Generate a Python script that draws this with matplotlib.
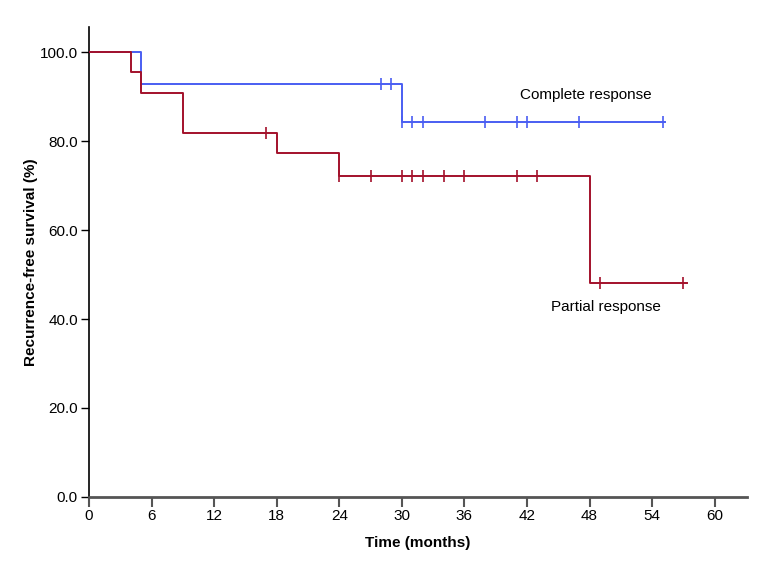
import matplotlib
matplotlib.use("Agg")
import matplotlib.pyplot as plt
import numpy as np

plt.rcParams.update({
    'font.family': ['Liberation Sans', 'DejaVu Sans'],
    'font.size': 11,
})

# Step curves: event times and survival level after each step (%)
cr_times = [0, 5, 30]
cr_surv = [100.0, 92.9, 84.4]
cr_end = 55.2
cr_censor = [28, 29, 30, 31, 32, 38, 41, 42, 47, 55]

pr_times = [0, 4, 5, 9, 18, 24, 48]
pr_surv = [100.0, 95.5, 90.9, 81.8, 77.3, 72.2, 48.1]
pr_end = 57.3
pr_censor = [17, 24, 27, 30, 31, 32, 34, 36, 41, 43, 49, 57]

x_ticks = [0, 6, 12, 18, 24, 30, 36, 42, 48, 54, 60]
y_ticks = [0, 20, 40, 60, 80, 100]

BLUE = '#4a5ef2'
RED = '#a3112b'


def level_at(t, times, surv):
    idx = np.searchsorted(times, t, side='right') - 1
    return surv[idx]


fig = plt.figure(figsize=(7.67, 5.75), dpi=100)
ax = fig.add_axes([0.116, 0.1357, 0.858, 0.817])

for times, surv, end, cens, color in [
    (cr_times, cr_surv, cr_end, cr_censor, BLUE),
    (pr_times, pr_surv, pr_end, pr_censor, RED),
]:
    xs = list(times) + [end]
    ys = list(surv) + [surv[-1]]
    ax.step(xs, ys, where='post', color=color, lw=1.4, zorder=3)
    cy = [level_at(c, times, surv) for c in cens]
    ax.plot(cens, cy, linestyle='none', marker='|', markersize=9,
            markeredgewidth=1.2, color=color, zorder=4)

ax.text(41.3, 90.3, "Complete response", ha='left', va='center', fontsize=11)
ax.text(44.3, 42.8, "Partial response", ha='left', va='center', fontsize=11)

ax.set_xlim(0, 63.1)
ax.set_ylim(0, 105.6)
ax.set_xticks(x_ticks)
ax.set_yticks(y_ticks)
ax.set_yticklabels([f"{v:.1f}" for v in y_ticks])

ax.spines['top'].set_visible(False)
ax.spines['right'].set_visible(False)
ax.spines['left'].set_linewidth(1.2)
ax.spines['bottom'].set_color('#555555')
ax.spines['bottom'].set_linewidth(2.0)
ax.tick_params(axis='y', direction='out', length=6, width=1.0, pad=2)
ax.tick_params(axis='x', direction='out', length=7, width=1.5,
               color='#555555', pad=2)

ax.set_xlabel("Time (months)", fontweight='bold', labelpad=9)
ax.set_ylabel("Recurrence-free survival (%)", fontweight='bold', labelpad=1)

fig.savefig("out.png", dpi=100)
plt.close(fig)
